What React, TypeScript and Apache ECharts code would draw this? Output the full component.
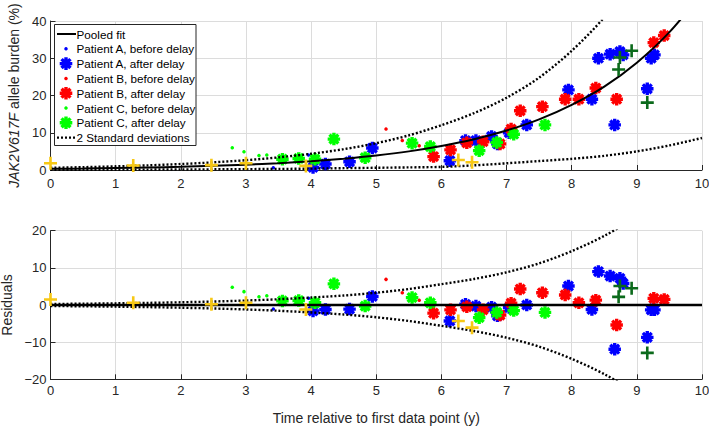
import React, { useEffect, useRef } from "react";
import * as echarts from "echarts";

// ---------- data ----------
const xTicks = [0, 1, 2, 3, 4, 5, 6, 7, 8, 9, 10];

// pooled fit (top) sampled every 0.5 y, and 2-SD half-width
const fitX = [0, 0.5, 1, 1.5, 2, 2.5, 3, 3.5, 4, 4.5, 5, 5.5, 6, 6.5, 7, 7.5, 8, 8.5, 9, 9.5, 10];
const fitY = [0.32, 0.41, 0.53, 0.68, 0.87, 1.12, 1.43, 1.84, 2.36, 3.04, 3.9, 5.0, 6.43, 8.25, 10.6, 13.6, 17.5, 22.4, 28.8, 37.0, 47.5];
const sdBand = [0.27, 0.35, 0.45, 0.57, 0.73, 0.94, 1.2, 1.55, 2.0, 2.55, 3.3, 4.3, 5.6, 7.0, 8.8, 11.2, 14.5, 18.6, 23.8, 30.4, 38.9];

// Patient A
const aBeforeX = [3.42, 3.96];
const aBeforeY = [0.6, 4.0];
const aBeforeRes = [-1.1, 1.8];
const aAfterX = [4.03, 4.22, 4.59, 4.94, 6.13, 6.37, 6.53, 6.77, 6.86, 7.04, 7.31, 7.95, 8.31, 8.41, 8.59, 8.74, 8.79, 8.66, 9.16, 9.22, 9.27];
const aAfterY = [0.7, 1.6, 2.2, 5.9, 2.5, 7.9, 7.9, 9.0, 7.0, 10.0, 12.1, 21.5, 19.0, 30.0, 31.1, 31.8, 30.9, 12.1, 21.8, 30.0, 30.9];
const aAfterRes = [-1.6, -1.2, -1.1, 2.3, -4.3, 0.2, -0.3, -0.6, -2.9, -0.7, 0.0, 5.1, -1.2, 9.0, 7.8, 7.2, 5.8, -11.9, -8.7, -1.3, -1.3];

// Patient B
const bBeforeX = [5.15, 5.4, 5.66];
const bBeforeY = [11.0, 7.9, 6.5];
const bBeforeRes = [6.9, 3.3, 1.3];
const bAfterX = [5.88, 6.14, 6.39, 6.64, 6.9, 7.07, 7.21, 7.55, 7.9, 8.11, 8.37, 8.69, 9.26, 9.42];
const bAfterY = [3.6, 5.4, 7.3, 7.6, 7.0, 11.0, 15.9, 17.0, 19.0, 19.0, 22.0, 19.0, 34.2, 36.1];
const bAfterRes = [-2.2, -1.3, -0.5, -1.3, -2.7, 0.5, 4.3, 3.3, 2.7, 0.6, 1.3, -5.4, 1.8, 1.5];

// Patient C
const cBeforeX = [2.79, 2.97, 3.2, 3.32];
const cBeforeY = [6.0, 4.9, 3.9, 4.0];
const cBeforeRes = [4.8, 3.6, 2.2, 2.5];
const cAfterX = [3.56, 3.81, 4.06, 4.35, 4.83, 5.55, 5.83, 6.58, 6.85, 7.11, 7.59];
const cAfterY = [2.9, 3.1, 2.9, 8.3, 3.3, 7.2, 6.3, 5.2, 7.4, 9.6, 12.1];
const cAfterRes = [1.1, 1.2, 0.6, 5.7, -0.3, 2.0, 0.6, -3.4, -2.0, -1.5, -2.0];

// unlabelled series (crosses)
const yellowX = [0.0, 1.27, 2.47, 3.0, 3.92, 6.26, 6.47];
const yellowY = [1.8, 1.2, 1.3, 1.8, 1.1, 2.7, 2.1];
const yellowRes = [1.5, 0.6, 0.2, 0.6, -1.2, -4.3, -6.1];
const dGreenX = [8.92, 8.74, 8.72, 9.16];
const dGreenY = [32.0, 30.2, 27.0, 18.1];
const dGreenRes = [4.5, 5.1, 2.2, -12.9];

const legendLabels = [
  "Pooled fit",
  "Patient A, before delay",
  "Patient A, after delay",
  "Patient B, before delay",
  "Patient B, after delay",
  "Patient C, before delay",
  "Patient C, after delay",
  "2 Standard deviations",
];

// ---------- styling ----------
const BLUE = "#0000FF";
const RED = "#FF0000";
const GREEN = "#00FF00";
const YELLOW = "#F7C815";
const DGREEN = "#0B6A1B";
const INK = "#262626";
const GRIDC = "#DCDCDC";
const FONT = "Arial, 'Liberation Sans', Helvetica, sans-serif";

function barPath(deg: number, h: number) {
  const t = (deg * Math.PI) / 180;
  const c = Math.cos(t);
  const s = Math.sin(t);
  const pts = [
    [1, -h],
    [1, h],
    [-1, h],
    [-1, -h],
  ].map(([u, v]) => [u * c - v * s, u * s + v * c]);
  return "M" + pts.map((p) => p[0].toFixed(3) + "," + p[1].toFixed(3)).join("L") + "Z";
}
const asteriskD = [0, 45, 90, 135].map((d) => barPath(d, 0.27)).join("");
const plusD = [0, 90].map((d) => barPath(d, 0.2)).join("");

echarts.graphic.registerShape("asterisk", echarts.graphic.extendPath(asteriskD, {}));

const zip = (xs: number[], ys: number[]) => xs.map((x, i) => [x, ys[i]]);

function scatter(name: string, xs: number[], ys: number[], grid: number, symbol: string, size: number, color: string, z: number) {
  return {
    name,
    type: "scatter",
    xAxisIndex: grid,
    yAxisIndex: grid,
    data: zip(xs, ys),
    symbol,
    symbolSize: size,
    itemStyle: { color, opacity: 1 },
    clip: false,
    z,
    emphasis: { disabled: true },
  };
}

function lineSeries(name: string, data: number[][], grid: number, width: number, dotted: boolean) {
  return {
    name,
    type: "line",
    xAxisIndex: grid,
    yAxisIndex: grid,
    data,
    showSymbol: false,
    symbol: "none",
    smooth: 0.3,
    lineStyle: { color: "#000", width, type: dotted ? [2, 2] : "solid", cap: "butt" },
    z: 4,
    emphasis: { disabled: true },
  };
}

function buildSeries() {
  const ast = "path://" + asteriskD;
  const plus = "path://" + plusD;
  const out: any[] = [];
  for (const g of [0, 1]) {
    const pick = (y: number[], r: number[]) => (g === 0 ? y : r);
    out.push(scatter("A before", aBeforeX, pick(aBeforeY, aBeforeRes), g, "circle", 3.5, BLUE, 3));
    out.push(scatter("A after", aAfterX, pick(aAfterY, aAfterRes), g, ast, 12.5, BLUE, 3));
    out.push(scatter("B before", bBeforeX, pick(bBeforeY, bBeforeRes), g, "circle", 3.5, RED, 3));
    out.push(scatter("B after", bAfterX, pick(bAfterY, bAfterRes), g, ast, 12.5, RED, 3));
    out.push(scatter("C before", cBeforeX, pick(cBeforeY, cBeforeRes), g, "circle", 3.5, GREEN, 3));
    out.push(scatter("C after", cAfterX, pick(cAfterY, cAfterRes), g, ast, 12.5, GREEN, 3));
    out.push(scatter("yellow", yellowX, pick(yellowY, yellowRes), g, plus, 13, YELLOW, 6));
    out.push(scatter("dgreen", dGreenX, pick(dGreenY, dGreenRes), g, plus, 13, DGREEN, 6));
  }
  // top: fit + bands
  out.push(lineSeries("fit", zip(fitX, fitY), 0, 2, false));
  out.push(lineSeries("upper", fitX.map((x, i) => [x, fitY[i] + sdBand[i]]), 0, 2.4, true));
  out.push(lineSeries("lower", fitX.map((x, i) => [x, fitY[i] - sdBand[i]]), 0, 2.4, true));
  // bottom: zero line + bands
  out.push(lineSeries("zero", fitX.map((x) => [x, 0]), 1, 2.6, false));
  out.push(lineSeries("upperR", fitX.map((x, i) => [x, sdBand[i]]), 1, 2.4, true));
  out.push(lineSeries("lowerR", fitX.map((x, i) => [x, -sdBand[i]]), 1, 2.4, true));
  return out;
}

function legendGraphic() {
  const els: any[] = [];
  els.push({
    type: "rect",
    z: 100,
    shape: { x: 54.5, y: 24.5, width: 141.5, height: 121 },
    style: { fill: "#fff", stroke: INK, lineWidth: 1 },
  });
  const colors = ["#000", BLUE, BLUE, RED, RED, GREEN, GREEN, "#000"];
  legendLabels.forEach((label, i) => {
    const y = 34 + i * 14.8;
    const kind = i === 0 ? "line" : i === 7 ? "dotted" : i % 2 === 1 ? "dot" : "ast";
    if (kind === "line" || kind === "dotted") {
      els.push({
        type: "line",
        z: 101,
        shape: { x1: 57, y1: y, x2: 76, y2: y },
        style: { stroke: "#000", lineWidth: kind === "line" ? 2 : 2.4, lineDash: kind === "dotted" ? [2, 2] : null },
      });
    } else if (kind === "dot") {
      els.push({ type: "circle", z: 101, shape: { cx: 66, cy: y, r: 1.75 }, style: { fill: colors[i] } });
    } else {
      els.push({ type: "asterisk", z: 101, x: 66, y, scaleX: 6.3, scaleY: 6.3, style: { fill: colors[i] } });
    }
    els.push({
      type: "text",
      z: 101,
      x: 76.5,
      y,
      style: { text: label, fill: "#000", font: `11.7px ${FONT}`, textVerticalAlign: "middle", textAlign: "left" },
    });
  });
  return els;
}

function xAxis(grid: number, withName: boolean) {
  return {
    type: "value",
    gridIndex: grid,
    min: 0,
    max: 10,
    interval: 1,
    name: withName ? "Time relative to first data point (y)" : "",
    nameLocation: "middle",
    nameGap: 32,
    nameTextStyle: { color: INK, fontSize: 14, fontFamily: FONT },
    axisLine: { show: true, onZero: false, lineStyle: { color: INK, width: 1 } },
    axisTick: { show: true, inside: true, length: 5, lineStyle: { color: INK } },
    axisLabel: {
      color: INK,
      fontSize: 13,
      fontFamily: FONT,
      margin: withName ? 5 : 7,
      formatter: (v: number) => (xTicks.includes(v) ? String(v) : ""),
    },
    splitLine: { show: true, lineStyle: { color: GRIDC, width: 1 } },
  };
}

function yAxis(grid: number, min: number, max: number, name: string) {
  return {
    type: "value",
    gridIndex: grid,
    min,
    max,
    interval: 10,
    name,
    nameLocation: "middle",
    nameRotate: 90,
    nameGap: 30,
    nameTextStyle: {
      color: INK,
      fontSize: 14,
      fontFamily: FONT,
      rich: { it: { fontStyle: "italic", fontSize: 14, color: INK, fontFamily: FONT } },
    },
    axisLine: { show: true, lineStyle: { color: INK, width: 1 } },
    axisTick: { show: true, inside: true, length: 5, lineStyle: { color: INK } },
    axisLabel: {
      color: INK,
      fontSize: 13,
      fontFamily: FONT,
      margin: 4,
      formatter: (v: number) => String(v).replace("-", "\u2212"),
    },
    splitLine: { show: true, lineStyle: { color: GRIDC, width: 1 } },
  };
}

export default function App() {
  const ref = useRef<HTMLDivElement>(null);
  useEffect(() => {
    document.body.style.margin = "0";
    const chart = echarts.init(ref.current!, null, { renderer: "svg" });
    chart.setOption({
      animation: false,
      backgroundColor: "#fff",
      grid: [
        { left: 50.5, right: 7, top: 21, height: 149, containLabel: false, outerBoundsMode: "none" },
        { left: 50.5, right: 7, top: 230.7, height: 148.6, containLabel: false, outerBoundsMode: "none" },
      ],
      xAxis: [xAxis(0, false), xAxis(1, true)],
      yAxis: [
        yAxis(0, 0, 40, "{it|JAK2V617F} allele burden (%)"),
        yAxis(1, -20, 20, "Residuals"),
      ],
      series: buildSeries(),
      graphic: { elements: legendGraphic() },
    });
    return () => chart.dispose();
  }, []);
  return <div ref={ref} style={{ position: "fixed", left: 0, top: 0, width: 709, height: 426 }} />;
}
